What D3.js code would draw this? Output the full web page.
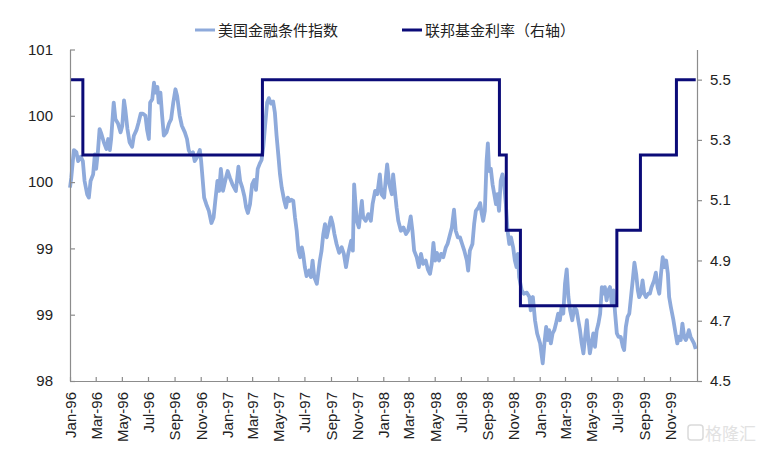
<!DOCTYPE html>
<html><head><meta charset="utf-8">
<script src="https://cdn.jsdelivr.net/npm/d3@7"></script>
<style>body{margin:0;background:#fff}svg{display:block}</style>
</head><body>
<svg id="c" width="762" height="450"></svg>
<script>
const fciDates=["1996-01-01","1996-01-04","1996-01-10","1996-01-16","1996-01-20","1996-01-26","1996-01-31","1996-02-04","1996-02-10","1996-02-14","1996-02-18","1996-02-24","1996-02-28","1996-03-02","1996-03-06","1996-03-10","1996-03-14","1996-03-20","1996-03-26","1996-03-30","1996-04-03","1996-04-06","1996-04-12","1996-04-16","1996-04-22","1996-04-28","1996-05-02","1996-05-06","1996-05-09","1996-05-14","1996-05-19","1996-05-25","1996-05-29","1996-06-04","1996-06-09","1996-06-14","1996-06-19","1996-06-25","1996-06-29","1996-07-03","1996-07-06","1996-07-11","1996-07-15","1996-07-18","1996-07-23","1996-07-26","1996-07-30","1996-08-03","1996-08-07","1996-08-13","1996-08-19","1996-08-24","1996-08-29","1996-09-03","1996-09-07","1996-09-13","1996-09-18","1996-09-25","1996-09-30","1996-10-04","1996-10-09","1996-10-14","1996-10-18","1996-10-24","1996-10-30","1996-11-02","1996-11-09","1996-11-14","1996-11-20","1996-11-26","1996-12-01","1996-12-05","1996-12-10","1996-12-14","1996-12-18","1996-12-23","1996-12-28",
"1997-01-03","1997-01-08","1997-01-14","1997-01-18","1997-01-22","1997-01-28","1997-02-01","1997-02-06","1997-02-11","1997-02-15","1997-02-19","1997-02-24","1997-03-01","1997-03-06","1997-03-10","1997-03-14","1997-03-19","1997-03-23","1997-03-27","1997-03-31","1997-04-05","1997-04-09","1997-04-14","1997-04-19","1997-04-23","1997-04-27","1997-05-01","1997-05-05","1997-05-09","1997-05-15","1997-05-19","1997-05-23","1997-05-28","1997-06-01","1997-06-05","1997-06-09","1997-06-13","1997-06-17","1997-06-21","1997-06-25","1997-06-28","1997-07-02","1997-07-06","1997-07-12","1997-07-16","1997-07-20","1997-07-24","1997-07-30","1997-08-02","1997-08-06","1997-08-10","1997-08-14","1997-08-18","1997-08-22","1997-08-27","1997-09-01","1997-09-05","1997-09-09","1997-09-14","1997-09-20","1997-09-26","1997-10-01","1997-10-06","1997-10-11","1997-10-18","1997-10-22","1997-10-25","1997-10-31","1997-11-05","1997-11-12","1997-11-15","1997-11-21","1997-11-27","1997-12-03","1997-12-07","1997-12-13","1997-12-18","1997-12-24","1997-12-28",
"1998-01-03","1998-01-07","1998-01-10","1998-01-15","1998-01-21","1998-01-24","1998-01-28","1998-02-01","1998-02-05","1998-02-11","1998-02-17","1998-02-23","1998-02-28","1998-03-06","1998-03-10","1998-03-14","1998-03-20","1998-03-25","1998-03-30","1998-04-04","1998-04-10","1998-04-15","1998-04-20","1998-04-24","1998-04-28","1998-05-02","1998-05-06","1998-05-11","1998-05-16","1998-05-21","1998-05-27","1998-05-31","1998-06-06","1998-06-10","1998-06-15","1998-06-19","1998-06-24","1998-06-29","1998-07-04","1998-07-09","1998-07-15","1998-07-18","1998-07-22","1998-07-28","1998-08-01","1998-08-05","1998-08-11","1998-08-15","1998-08-19","1998-08-22","1998-08-26","1998-08-30","1998-09-02","1998-09-05","1998-09-09","1998-09-13","1998-09-17","1998-09-21","1998-09-24","1998-09-28","1998-10-02","1998-10-06","1998-10-10","1998-10-14","1998-10-18","1998-10-22","1998-10-26","1998-10-31","1998-11-04","1998-11-08","1998-11-11","1998-11-14","1998-11-20","1998-11-25","1998-12-02","1998-12-08","1998-12-11","1998-12-16","1998-12-21","1998-12-26",
"1999-01-02","1999-01-06","1999-01-08","1999-01-12","1999-01-16","1999-01-20","1999-01-23","1999-01-27","1999-01-31","1999-02-04","1999-02-08","1999-02-13","1999-02-17","1999-02-21","1999-02-25","1999-03-01","1999-03-05","1999-03-09","1999-03-13","1999-03-18","1999-03-23","1999-03-28","1999-04-01","1999-04-05","1999-04-09","1999-04-13","1999-04-17","1999-04-21","1999-04-24","1999-04-28","1999-05-02","1999-05-06","1999-05-10","1999-05-14","1999-05-18","1999-05-22","1999-05-26","1999-05-29","1999-06-02","1999-06-06","1999-06-10","1999-06-14","1999-06-18","1999-06-22","1999-06-26","1999-06-30","1999-07-04","1999-07-09","1999-07-14","1999-07-17","1999-07-21","1999-07-25","1999-07-29","1999-08-02","1999-08-06","1999-08-10","1999-08-14","1999-08-18","1999-08-21","1999-08-25","1999-08-29","1999-09-02","1999-09-06","1999-09-11","1999-09-15","1999-09-19","1999-09-25","1999-09-29","1999-10-03","1999-10-07","1999-10-11","1999-10-15","1999-10-19","1999-10-23","1999-10-27","1999-10-30","1999-11-03","1999-11-09","1999-11-14","1999-11-18","1999-11-22","1999-11-26","1999-11-30","1999-12-04","1999-12-08","1999-12-11","1999-12-15","1999-12-19","1999-12-23","1999-12-27","1999-12-31"];
const fciValues=[99.75,99.84,100.09,100.07,99.99,100.03,99.99,99.81,99.69,99.66,99.81,99.87,100.05,99.92,100.07,100.28,100.24,100.16,100.10,100.19,100.09,100.19,100.52,100.37,100.33,100.25,100.31,100.54,100.46,100.28,100.16,100.12,100.22,100.27,100.34,100.42,100.42,100.40,100.27,100.19,100.52,100.55,100.70,100.61,100.66,100.52,100.61,100.40,100.22,100.25,100.33,100.37,100.52,100.64,100.58,100.40,100.31,100.25,100.19,100.09,100.05,100.07,99.99,100.03,100.09,99.99,99.66,99.60,99.54,99.43,99.48,99.63,99.81,99.72,99.92,99.72,99.81,
99.90,99.84,99.78,99.75,99.72,99.94,99.81,99.75,99.67,99.57,99.52,99.60,99.78,99.82,99.73,99.92,99.97,100.00,100.12,100.30,100.52,100.56,100.51,100.53,100.43,100.22,100.05,99.87,99.75,99.63,99.57,99.66,99.63,99.64,99.63,99.48,99.36,99.18,99.12,99.21,99.15,99.03,98.95,99.00,98.94,99.09,98.94,98.88,98.97,99.09,99.18,99.33,99.42,99.30,99.39,99.48,99.42,99.33,99.24,99.16,99.21,99.15,99.03,99.15,99.27,99.18,99.78,99.45,99.39,99.63,99.48,99.45,99.51,99.45,99.60,99.72,99.69,99.87,99.69,
99.66,99.84,99.96,99.78,99.69,99.87,99.72,99.57,99.45,99.36,99.39,99.33,99.36,99.49,99.36,99.18,99.12,99.03,99.15,99.06,99.09,99.01,98.97,99.06,99.25,99.09,99.16,99.09,99.15,99.12,99.21,99.24,99.33,99.39,99.55,99.36,99.30,99.30,99.24,99.18,99.09,99.00,99.18,99.24,99.42,99.54,99.57,99.61,99.51,99.45,99.54,99.99,100.15,99.90,99.92,99.78,99.69,99.60,99.69,99.54,99.81,99.87,99.78,99.60,99.36,99.24,99.30,99.21,99.09,99.03,99.15,98.94,98.82,98.79,98.80,98.76,98.64,98.76,98.55,98.43,
98.34,98.22,98.16,98.34,98.49,98.37,98.46,98.34,98.43,98.46,98.52,98.61,98.55,98.67,98.61,98.88,99.01,98.76,98.64,98.55,98.67,98.64,98.55,98.46,98.34,98.25,98.40,98.55,98.40,98.25,98.34,98.43,98.31,98.46,98.52,98.61,98.85,98.79,98.85,98.73,98.82,98.85,98.70,98.82,98.61,98.43,98.40,98.40,98.31,98.28,98.49,98.58,98.61,98.76,98.91,99.07,98.97,98.82,98.76,98.79,98.91,98.79,98.76,98.79,98.79,98.85,98.91,98.98,98.85,98.79,98.97,99.12,99.03,99.09,98.97,98.76,98.67,98.55,98.43,98.34,98.40,98.37,98.52,98.40,98.37,98.40,98.46,98.40,98.37,98.34,98.29];

const fedDates=["1996-01-01","1996-01-31","1997-03-25","1998-09-29","1998-10-15","1998-11-17","1999-06-30","1999-08-24","1999-11-16","1999-12-31"];
const fedRates=[5.5,5.25,5.5,5.25,5.0,4.75,5.0,5.25,5.5,5.5];

const leftTicks=[98,98.6,99.2,99.8,100.4,101];
const rightTicks=[4.5,4.7,4.9,5.1,5.3,5.5];
const seriesNames=["美国金融条件指数","联邦基金利率（右轴）"];
const seriesColors=["#8eaadb","#0b0b78"];

const parse=d3.timeParse("%Y-%m-%d");
const fci=fciDates.map((d,i)=>({date:parse(d),value:fciValues[i]}));
const fed=fedDates.map((d,i)=>({date:parse(d),value:fedRates[i]}));

const m={l:70,r:697,t:49.5,b:381};
const svg=d3.select("#c");
const font="'Liberation Sans','Noto Sans CJK SC',Arial,sans-serif";
const axisColor="#8c8c8c";

const x=d3.scaleTime().domain([parse("1996-01-01"),parse("2000-01-03")]).range([m.l,m.r]);
const yL=d3.scaleLinear().domain([98,101]).range([m.b,m.t]);
const yR=d3.scaleLinear().domain([4.5,5.6]).range([m.b,m.t]);

// lines
svg.append("path").datum(fci)
  .attr("fill","none").attr("stroke",seriesColors[0]).attr("stroke-width",3.8)
  .attr("stroke-linejoin","round")
  .attr("d",d3.line().x(d=>x(d.date)).y(d=>yL(d.value)));

svg.append("path").datum(fed)
  .attr("fill","none").attr("stroke",seriesColors[1]).attr("stroke-width",3)
  .attr("d",d3.line().curve(d3.curveStepAfter).x(d=>x(d.date)).y(d=>yR(d.value)));

// x axis
const xTicks=d3.timeMonth.every(2).range(parse("1996-01-01"),parse("1999-12-01"));
const gx=svg.append("g").attr("transform",`translate(0,${m.b})`)
  .call(d3.axisBottom(x).tickValues(xTicks).tickSizeInner(-4).tickSizeOuter(0).tickFormat(d3.timeFormat("%b-%y")));
gx.selectAll("text").attr("transform","rotate(-90)").attr("x",-11).attr("y",0).attr("dy","0.36em")
  .attr("text-anchor","end");

// left axis
const gl=svg.append("g").attr("transform",`translate(${m.l},0)`)
  .call(d3.axisLeft(yL).tickValues(leftTicks).tickSizeInner(-5).tickSizeOuter(0).tickFormat(d3.format(".0f")));
gl.selectAll("text").attr("x",-17);

// right axis
const gr=svg.append("g").attr("transform",`translate(${m.r},0)`)
  .call(d3.axisRight(yR).tickValues(rightTicks).tickSizeInner(5).tickSizeOuter(0).tickFormat(d3.format(".1f")));
gr.selectAll("text").attr("x",13);

[gx,gl,gr].forEach(g=>{
  g.selectAll("path.domain").attr("stroke",axisColor).attr("stroke-width",1.2);
  g.selectAll(".tick line").attr("stroke",axisColor).attr("stroke-width",1.2);
  g.selectAll("text").attr("fill","#222").style("font-family",font).style("font-size","15px");
});

// legend
const legendX=[195,402];
seriesNames.forEach((n,i)=>{
  const g=svg.append("g");
  g.append("line").attr("x1",legendX[i]).attr("x2",legendX[i]+20).attr("y1",30).attr("y2",30)
    .attr("stroke",seriesColors[i]).attr("stroke-width",3);
  g.append("text").attr("x",legendX[i]+23).attr("y",35.5).text(n)
    .attr("fill","#222").style("font-family",font).style("font-size","15px");
});

// watermark
const wm=svg.append("g");
wm.append("rect").attr("x",688).attr("y",425).attr("width",15).attr("height",15).attr("rx",3)
  .attr("fill","none").attr("stroke","#dadada").attr("stroke-width",1.5);
wm.append("text").attr("x",705).attr("y",440).text("格隆汇")
  .attr("fill","#e2e2e2").style("font-family","'Noto Sans CJK SC',sans-serif").style("font-size","17px");
</script>
</body></html>
